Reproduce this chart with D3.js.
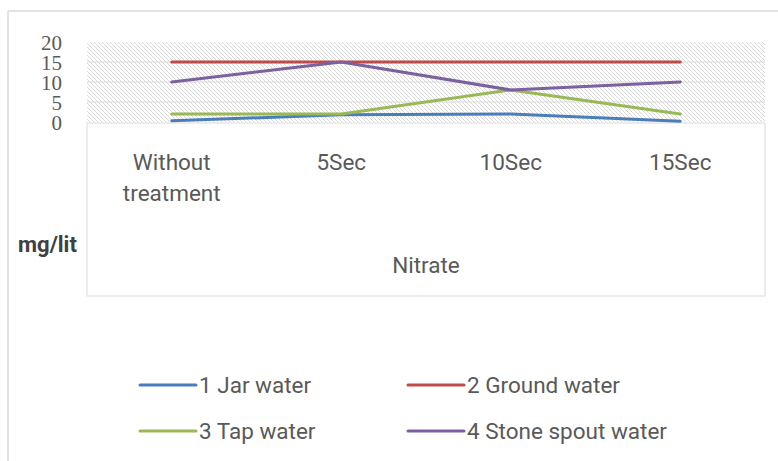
<!DOCTYPE html>
<html><head><meta charset="utf-8">
<script src="https://cdn.jsdelivr.net/npm/d3@7"></script>
<style>body{margin:0;background:#fff;} svg{display:block;}</style>
</head><body>
<svg id="c" width="778" height="461"></svg>
<script>
const categories = ["Without treatment", "5Sec", "10Sec", "15Sec"];
const seriesNames = ["1 Jar water", "2 Ground water", "3 Tap water", "4 Stone spout water"];
const jarWater = [0.3, 1.8, 2, 0.2];
const groundWater = [15, 15, 15, 15];
const tapWater = [2, 2, 8, 2];
const stoneWater = [10, 15, 8, 10];
const yTicks = [0, 5, 10, 15, 20];
const colors = ["#4a7ebb", "#be4b48", "#98b954", "#7d60a0"];
const seriesValues = [jarWater, groundWater, tapWater, stoneWater];

const FONT = "Roboto, 'Noto Sans', sans-serif";
const svg = d3.select("#c");
const pLeft = 87, pRight = 765, pTop = 42, pBottom = 122;
const x = d3.scaleBand().domain(categories).range([pLeft, pRight]);
const y = d3.scaleLinear().domain([0, 20]).range([pBottom, pTop]);

// outer border
svg.append("line").attr("x1", 8).attr("x2", 778).attr("y1", 11).attr("y2", 11).attr("stroke", "#d9d9d9").attr("stroke-width", 1.5);
svg.append("line").attr("x1", 8).attr("x2", 8).attr("y1", 11).attr("y2", 461).attr("stroke", "#d9d9d9").attr("stroke-width", 1.5);

// hatch pattern
const defs = svg.append("defs");
const pat = defs.append("pattern").attr("id", "hatch").attr("patternUnits", "userSpaceOnUse")
  .attr("width", 4).attr("height", 4);
pat.append("path").attr("d", "M-1,-1 L5,5 M-1,3 L1,5 M3,-1 L5,1").attr("stroke", "#cfcfcf").attr("stroke-width", 0.8);
svg.append("rect").attr("x", pLeft).attr("y", pTop).attr("width", pRight - pLeft).attr("height", pBottom - pTop)
  .attr("fill", "url(#hatch)");

// gridlines
svg.append("g").selectAll("line").data(yTicks.filter(d => d > 0 && d < 20)).join("line")
  .attr("x1", pLeft).attr("x2", pRight).attr("y1", d => y(d)).attr("y2", d => y(d))
  .attr("stroke", "#d9d9d9").attr("stroke-width", 1);

// lower box
svg.append("rect").attr("x", pLeft).attr("y", pBottom + 1).attr("width", pRight - pLeft).attr("height", 296 - pBottom - 1)
  .attr("fill", "#fff").attr("stroke", "#d9d9d9").attr("stroke-width", 1);

// y axis labels
const yAxis = d3.axisLeft(y).tickValues(yTicks).tickSize(0).tickPadding(0);
const gy = svg.append("g").attr("transform", "translate(62,0)").call(yAxis);
gy.select(".domain").remove();
gy.selectAll("text").attr("font-family", "Liberation Serif, DejaVu Serif, serif").attr("font-size", 21)
  .attr("fill", "#595959").attr("dy", "0.34em");

// x axis labels
const gx = svg.append("g");
categories.forEach(c => {
  const words = c === "Without treatment" ? ["Without", "treatment"] : [c];
  const t = gx.append("text").attr("x", x(c) + x.bandwidth() / 2).attr("y", 170)
    .attr("text-anchor", "middle").attr("font-family", FONT)
    .attr("font-size", 22.5).attr("fill", "#595959");
  words.forEach((w, i) => t.append("tspan").attr("x", x(c) + x.bandwidth() / 2).attr("dy", i ? 31 : 0).text(w));
});

// titles
svg.append("text").attr("x", 18).attr("y", 252).attr("font-family", FONT)
  .attr("font-size", 22).attr("font-weight", "bold").attr("fill", "#404040").text("mg/lit");
svg.append("text").attr("x", 426).attr("y", 273).attr("text-anchor", "middle").attr("font-family", FONT)
  .attr("font-size", 22.5).attr("fill", "#595959").text("Nitrate");

// lines
const line = d3.line().x((d, i) => x(categories[i]) + x.bandwidth() / 2).y(d => y(d));
svg.append("g").selectAll("path").data(seriesValues).join("path")
  .attr("d", line).attr("fill", "none").attr("stroke", (d, i) => colors[i]).attr("stroke-width", 3)
  .attr("stroke-linejoin", "round").attr("stroke-linecap", "round");

// legend
const legPos = [[140, 385], [408, 385], [140, 431], [408, 431]];
const lg = svg.append("g").selectAll("g").data(seriesNames).join("g")
  .attr("transform", (d, i) => `translate(${legPos[i][0]},${legPos[i][1]})`);
lg.append("line").attr("x1", 0).attr("x2", 56).attr("y1", 0).attr("y2", 0)
  .attr("stroke", (d, i) => colors[i]).attr("stroke-width", 3).attr("stroke-linecap", "round");
lg.append("text").attr("x", 59).attr("y", 8).attr("font-family", FONT)
  .attr("font-size", 22.5).attr("fill", "#595959").text(d => d);
</script>
</body></html>
